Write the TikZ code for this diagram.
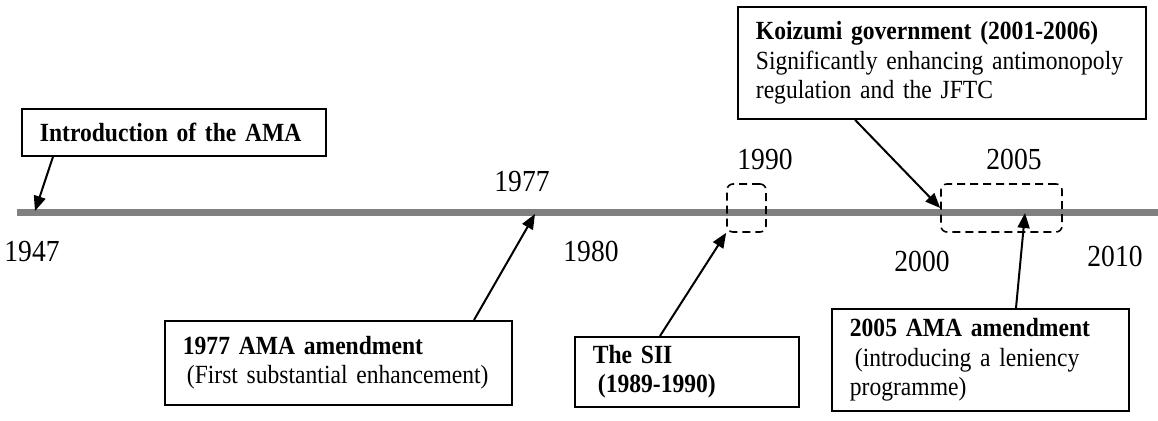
\documentclass[tikz,border=0pt]{standalone}
\usepackage{fontspec}
\setmainfont{Liberation Serif}[FakeStretch=0.9]
\usetikzlibrary{arrows.meta,shapes,calc}
\tikzstyle{event}=[draw,line width=0.9pt,anchor=north west,align=left,inner xsep=9pt,inner ysep=0pt,font=\fontsize{13.1}{14.75}\selectfont]
\tikzstyle{year}=[anchor=base,inner sep=0pt,font=\fontsize{15.3}{17}\selectfont]
\tikzstyle{period}=[draw,dash pattern=on 4pt off 2.5pt,line width=0.8pt,rounded corners=3pt,inner sep=0pt]
\tikzstyle{pointer}=[draw,line width=1pt,-{Triangle[length=7.5pt,width=6pt]}]
\tikzstyle{timeline}=[draw=black!50,line width=3.5pt]

\begin{document}
\begin{tikzpicture}[x=0.5pt,y=-0.5pt]

    \useasboundingbox (0,0) rectangle (1158,421);

    % the time axis
    \coordinate (barL) at (17,212.5);
    \coordinate (barR) at (1158,212.5);
    \draw[timeline] (barL) -- (barR);

    \foreach \x/\y/\yr in {32/262/1947, 522/192/1977, 591/262/1980, 765/170/1990, 922/272/2000, 1014/170/2005, 1115/267/2010}
        \node[year] (y\yr) at (\x,\y) {\yr};

    % dashed periods on the axis
    \node[period, minimum width=19.5pt, minimum height=24pt] (p1990) at (746.5,208) {};
    \node[period, minimum width=60.5pt, minimum height=24pt] (p2005) at (1001.5,208) {};

    % event boxes
    \node[event, text width=134pt, minimum height=23.5pt] (intro) at (21,108) {\textbf{Introduction of the AMA}};
    \node[event, text width=155.5pt, minimum height=42pt] (amend77) at (164,320) {\textbf{1977 AMA amendment}\\\hspace*{2pt}(First substantial enhancement)};
    \node[event, text width=94pt, minimum height=35pt] (sii) at (574,336) {\textbf{The SII}\\\hspace*{2.5pt}\textbf{(1989-1990)}};
    \node[event, text width=186pt, minimum height=56pt] (koizumi) at (737,6) {\textbf{Koizumi government (2001-2006)}\\Significantly enhancing antimonopoly\\regulation and the JFTC};
    \node[event, text width=130.5pt, minimum height=51pt] (amend05) at (831,308) {\textbf{2005 AMA amendment}\\\hspace*{2.5pt}(introducing a leniency\\programme)};

    % arrows to the axis
    \coordinate (t1947) at (35,211);
    \coordinate (t1977) at (535,214);
    \coordinate (t2005) at (1025,213);
    \draw[pointer] ($(intro.south west)+(32,0)$) -- (t1947);
    \draw[pointer] ($(amend77.north west)+(310,0)$) -- (t1977);
    \draw[pointer] ($(sii.north west)+(86,0)$) -- (p1990.south west);
    \draw[pointer] ($(koizumi.south west)+(118,0)$) -- (p2005.west);
    \draw[pointer] ($(amend05.north west)+(185,0)$) -- (t2005);

\end{tikzpicture}
\end{document}
